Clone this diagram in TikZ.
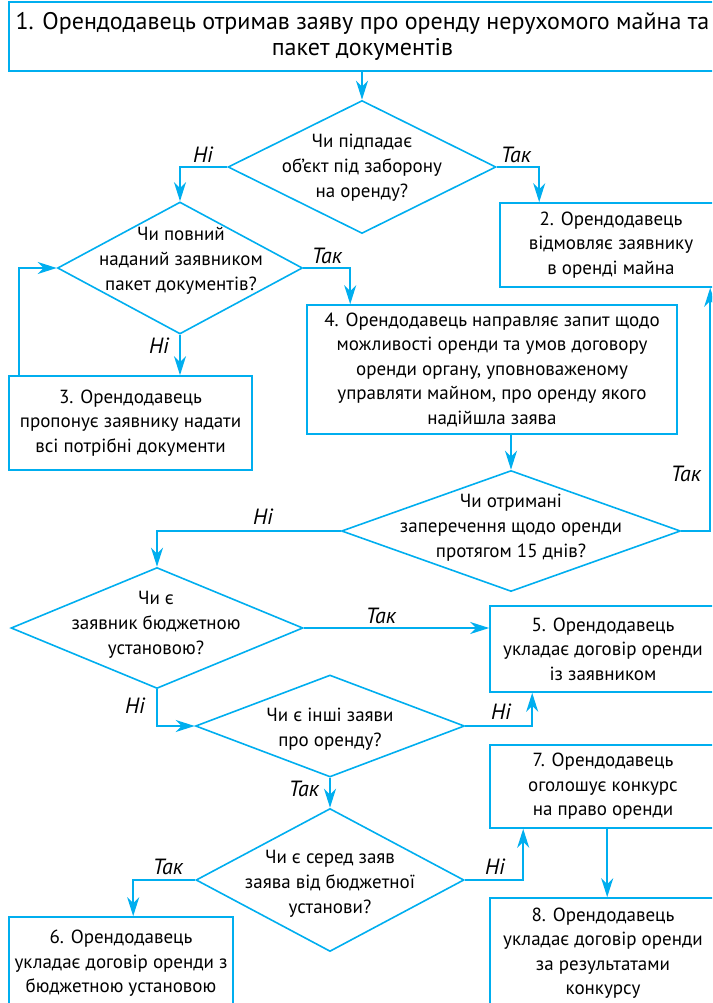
\documentclass[tikz,border=0pt]{standalone}
\usepackage{fontspec}
\setmainfont{PT Sans}
\usetikzlibrary{shapes.geometric,arrows.meta}
\definecolor{fc}{RGB}{0,174,239}
\begin{document}
\begin{tikzpicture}[x=1pt,y=-1pt,
  line/.style={draw=fc,line width=1.6pt},
  arr/.style={line,-{Stealth[length=19pt,width=12pt,inset=6pt]}},
  box/.style={line,rectangle,inner sep=0pt,align=center,font=\fontsize{19}{24.5}\selectfont},
  dia/.style={line,diamond,inner sep=0pt},
  dtext/.style={align=center,font=\fontsize{19}{25}\selectfont,inner sep=0pt},
  lab/.style={font=\fontsize{22}{24}\selectfont\itshape,inner sep=0pt}]
\useasboundingbox (0,0) rectangle (712,1003);
\clip (0,0) rectangle (712,1003);

% boxes
\node[box,minimum width=707pt,minimum height=69pt,font=\fontsize{24}{26}\selectfont] (b1) at (362.5,36.5)
  {1. Орендодавець отримав заяву про оренду нерухомого майна та\\пакет документів};
\node[box,minimum width=222pt,minimum height=84pt] (b2) at (611,245)
  {2. Орендодавець\\відмовляє заявнику\\в оренді майна};
\node[box,minimum width=243pt,minimum height=94pt] (b3) at (130.5,423)
  {3. Орендодавець\\пропонує заявнику надати\\всі потрібні документи};
\node[box,minimum width=370pt,minimum height=129pt] (b4) at (492,369.5)
  {4. Орендодавець направляє запит щодо\\можливості оренди та умов договору\\оренди органу, уповноваженому\\управляти майном, про оренду якого\\надійшла заява};
\node[box,minimum width=226pt,minimum height=86pt] (b5) at (603,649)
  {5. Орендодавець\\укладає договір оренди\\із заявником};
\node[box,minimum width=224pt,minimum height=93pt] (b6) at (121,963.5)
  {6. Орендодавець\\укладає договір оренди з\\бюджетною установою};
\node[box,minimum width=226pt,minimum height=83pt] (b7) at (603,786.5)
  {7. Орендодавець\\оголошує конкурс\\на право оренди};
\node[box,minimum width=226pt,minimum height=110pt] (b8) at (603,953)
  {8. Орендодавець\\укладає договір оренди\\за результатами\\конкурсу};

% diamonds
\node[dia,minimum width=268pt,minimum height=133pt] (d1) at (362,167) {};
\node[dtext] (t1) at (362,168) {Чи підпадає\\об’єкт під заборону\\на оренду?};
\node[dia,minimum width=245pt,minimum height=132pt] (d2) at (180,268) {};
\node[dtext] (t2) at (181,261) {Чи повний\\наданий заявником\\пакет документів?};
\node[dia,minimum width=339pt,minimum height=121pt] (d3) at (511,531) {};
\node[dtext] (t3) at (511,528) {Чи отримані\\заперечення щодо оренди\\протягом 15 днів?};
\node[dia,minimum width=292pt,minimum height=121pt] (d4) at (157,628) {};
\node[dtext] (t4) at (156,625) {Чи є\\заявник бюджетною\\установою?};
\node[dia,minimum width=269pt,minimum height=102pt] (d5) at (330,726) {};
\node[dtext] (t5) at (330,729) {Чи є інші заяви\\про оренду?};
\node[dia,minimum width=268pt,minimum height=143pt] (d6) at (330,880) {};
\node[dtext] (t6) at (330,884) {Чи є серед заяв\\заява від бюджетної\\установи?};

% connectors
\draw[arr] (b1.south -| d1.north) -- (d1.north);
\draw[arr] (d1.west) -| (d2.north);
\draw[arr] (d1.east) -| ([xshift=40pt]b2.north west);
\draw[arr] (d2.east) -| ([xshift=44pt]b4.north west);
\draw[arr] (d2.south) -- (d2.south |- b3.north);
\draw[arr] ([xshift=11pt]b3.north west) |- (d2.west);
\draw[arr] (d3.north |- b4.south) -- (d3.north);
\draw[arr] (d3.east) -| ([xshift=211pt]b2.south west);
\draw[arr] (d3.west) -| (d4.north);
\draw[arr] (d4.east) -- (d4.east -| b5.west);
\draw[arr] (d4.south) |- (d5.west);
\draw[arr] (d5.east) -| ([xshift=43pt]b5.south west);
\draw[arr] (d5.south) -- (d6.north);
\draw[arr] (d6.west) -| ([xshift=125pt]b6.north west);
\draw[arr] (d6.east) -| ([xshift=34pt]b7.south west);
\draw[arr] ([xshift=118pt]b7.south west) -- ([xshift=118pt]b8.north west);

% labels
\node[lab] (l1) at (203,155) {Ні};
\node[lab] (l2) at (516,155) {Так};
\node[lab] (l3) at (327,256) {Так};
\node[lab] (l4) at (159,346) {Ні};
\node[lab] (l5) at (686,474) {Так};
\node[lab] (l6) at (263,517) {Ні};
\node[lab] (l7) at (381,616) {Так};
\node[lab] (l8) at (135,706) {Ні};
\node[lab] (l9) at (501,712) {Ні};
\node[lab] (l10) at (304,789) {Так};
\node[lab] (l11) at (168,867) {Так};
\node[lab] (l12) at (495,867) {Ні};
\end{tikzpicture}
\end{document}
